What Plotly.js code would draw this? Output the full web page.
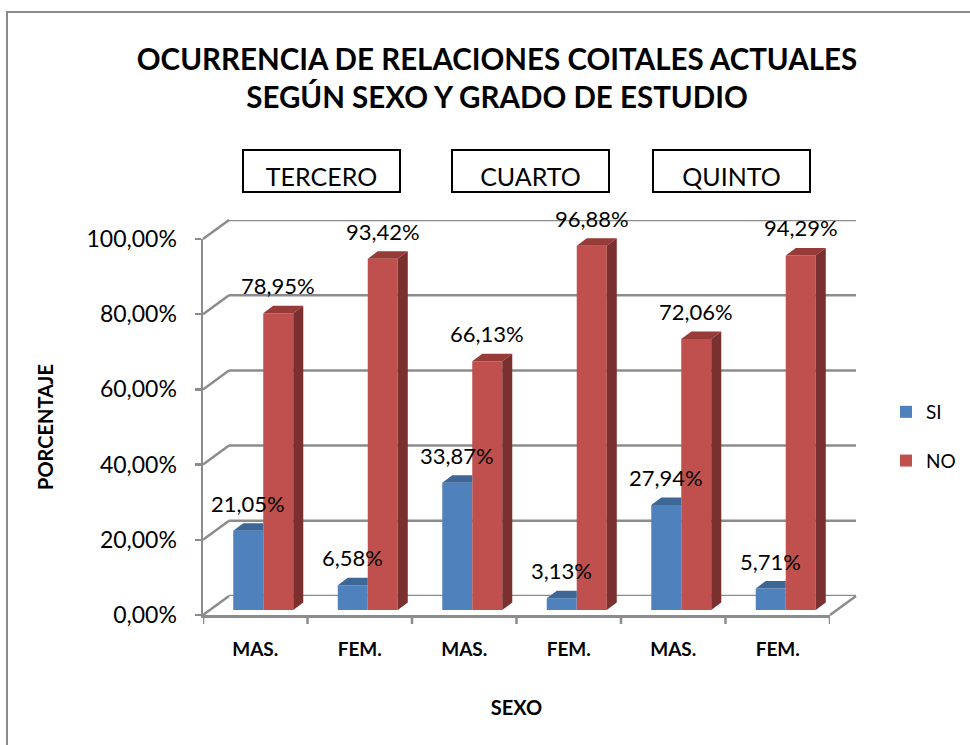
<!DOCTYPE html>
<html>
<head>
<meta charset="utf-8">
<script src="https://cdn.plot.ly/plotly-3.0.1.min.js"></script>
<style>html,body{margin:0;padding:0;background:#fff;}#chart{width:970px;height:745px;}</style>
</head>
<body>
<div id="chart"></div>
<script>
// ---------- DATA ----------
const categories = ['MAS.', 'FEM.', 'MAS.', 'FEM.', 'MAS.', 'FEM.'];
const grades = ['TERCERO', 'CUARTO', 'QUINTO'];
const seriesNames = ['SI', 'NO'];
const siValues = [21.05, 6.58, 33.87, 3.13, 27.94, 5.71];
const noValues = [78.95, 93.42, 66.13, 96.88, 72.06, 94.29];
const yTicks = [0, 20, 40, 60, 80, 100];
const yTickText = ['0,00%', '20,00%', '40,00%', '60,00%', '80,00%', '100,00%'];

// ---------- STYLE / GEOMETRY ----------
const W = 970, H = 745;
const FONT = 'Lato, "Open Sans", sans-serif';
const frontL = 203, frontR = 830, frontB = 615, frontT = 239;
const depthDX = 26, depthDY = -19;
const barShiftX = 8, barShiftY = -5;
const px = p => p / W;
const py = p => 1 - p / H;
const gridColor = '#8c8c8c';
const colorsFront = ['#4F81BD', '#C0504D'];
const colorsTop = ['#3D6796', '#973B39'];
const colorsSide = ['#365B87', '#7A302E'];
const barW = 0.287;            // in category units
const extX = 0.096;            // 3D extrusion (category units)
const extY = 2.0;              // 3D extrusion (value units)
const gradeShift = [6, 6, -2]; // pixel nudges of the grade boxes

const nCat = categories.length;
const xIdx = categories.map((c, i) => i);
const series = [siValues, noValues];
const offsets = [-barW, 0];
const fmt = v => v.toFixed(2).replace('.', ',') + '%';

const traces = [];
// dummy traces for back and front subplots
traces.push({x: [0], y: [0], xaxis: 'x', yaxis: 'y', mode: 'none', showlegend: false, hoverinfo: 'skip', type: 'scatter'});
traces.push({x: [0], y: [0], xaxis: 'x2', yaxis: 'y2', mode: 'none', showlegend: false, hoverinfo: 'skip', type: 'scatter'});

// front faces
series.forEach((vals, s) => {
  traces.push({
    type: 'bar', name: seriesNames[s], x: xIdx, y: vals,
    xaxis: 'x3', yaxis: 'y3', width: barW, offset: offsets[s],
    marker: {color: colorsFront[s], line: {width: 0}},
    legendgroup: seriesNames[s], hoverinfo: 'skip'
  });
});

// 3D top and side faces (computed from the values)
series.forEach((vals, s) => {
  const topX = [], topY = [], sideX = [], sideY = [];
  const isLast = s === series.length - 1;
  vals.forEach((v, i) => {
    const x0 = i + offsets[s], x1 = x0 + barW;
    if (isLast) {
      topX.push(x0, x1, x1 + extX, x0 + extX, x0, null);
      topY.push(v, v, v + extY, v + extY, v, null);
      sideX.push(x1, x1, x1 + extX, x1 + extX, x1, null);
      sideY.push(0, v, v + extY, extY, 0, null);
    } else {
      // clipped by the neighbouring (taller) bar in front
      topX.push(x0, x1, x1, x0 + extX, x0, null);
      topY.push(v, v, v + extY, v + extY, v, null);
    }
  });
  traces.push({type: 'scatter', x: topX, y: topY, xaxis: 'x3', yaxis: 'y3', mode: 'lines',
    line: {width: 0, color: colorsTop[s]}, fill: 'toself', fillcolor: colorsTop[s],
    showlegend: false, hoverinfo: 'skip'});
  if (sideX.length) {
    traces.push({type: 'scatter', x: sideX, y: sideY, xaxis: 'x3', yaxis: 'y3', mode: 'lines',
      line: {width: 0, color: colorsSide[s]}, fill: 'toself', fillcolor: colorsSide[s],
      showlegend: false, hoverinfo: 'skip'});
  }
});

// ---------- SHAPES (axes decoration) ----------
const shapes = [];
// chart border
shapes.push({type: 'rect', xref: 'paper', yref: 'paper', x0: px(7), x1: px(W + 10), y0: py(12), y1: py(H + 10),
  line: {color: '#8a8a8a', width: 2}, layer: 'below'});
const yFront = v => frontB - (frontB - frontT) * v / 100;
yTicks.forEach(v => {
  // back wall gridline
  shapes.push({type: 'line', xref: 'x domain', yref: 'y', x0: 0, x1: 1, y0: v, y1: v,
    line: {color: gridColor, width: 2.5}, layer: 'below'});
  // side-wall connector from front axis to back wall
  shapes.push({type: 'line', xref: 'paper', yref: 'paper',
    x0: px(frontL), y0: py(yFront(v)), x1: px(frontL + depthDX), y1: py(yFront(v) + depthDY),
    line: {color: gridColor, width: 2.5}, layer: 'below'});
});
// floor right edge
shapes.push({type: 'line', xref: 'paper', yref: 'paper',
  x0: px(frontR), y0: py(frontB), x1: px(frontR + depthDX), y1: py(frontB + depthDY),
  line: {color: gridColor, width: 2.5}, layer: 'below'});
// category boundary tick marks
for (let k = 0; k <= nCat; k++) {
  shapes.push({type: 'line', xref: 'x2', yref: 'paper', x0: k - 0.5, x1: k - 0.5,
    y0: py(frontB), y1: py(frontB + 9), line: {color: gridColor, width: 2.5}});
}

// ---------- ANNOTATIONS ----------
const annotations = [];
series.forEach((vals, s) => {
  vals.forEach((v, i) => {
    annotations.push({xref: 'x3', yref: 'y3', x: i + offsets[s] + barW / 2, y: v,
      text: fmt(v), showarrow: false, yanchor: 'bottom', yshift: 12,
      font: {family: FONT, size: 22, color: '#000'}});
  });
});
grades.forEach((g, k) => {
  annotations.push({xref: 'x3', yref: 'paper', x: 2 * k + 0.5, xshift: gradeShift[k], y: py(171), yanchor: 'middle',
    text: g, showarrow: false, font: {family: FONT, size: 25, color: '#000'},
    bordercolor: '#000', borderwidth: 2, borderpad: 0, width: 155, height: 40, valign: 'bottom',
    bgcolor: '#fff'});
});

const layout = {
  width: W, height: H,
  margin: {l: 0, r: 0, t: 0, b: 0, pad: 0},
  paper_bgcolor: '#fff', plot_bgcolor: 'rgba(0,0,0,0)',
  font: {family: FONT, color: '#000'},
  title: {text: 'OCURRENCIA DE RELACIONES COITALES ACTUALES<br>SEGÚN SEXO Y GRADO DE ESTUDIO',
    font: {family: FONT, size: 29.5, weight: 'bold', color: '#000'},
    x: px(497), xanchor: 'center', y: py(70), yanchor: 'middle', yref: 'container'},
  barmode: 'overlay',
  showlegend: true,
  legend: {x: px(886), y: py(393), xanchor: 'left', yanchor: 'top', traceorder: 'grouped',
    tracegroupgap: 21, font: {family: FONT, size: 19, color: '#000'}, bgcolor: 'rgba(0,0,0,0)'},
  // back wall
  xaxis: {domain: [px(frontL + depthDX), px(frontR + depthDX)], range: [-0.5, nCat - 0.5], visible: false, fixedrange: true},
  yaxis: {domain: [py(frontB + depthDY), py(frontT + depthDY)], range: [0, 100], visible: false, fixedrange: true},
  // front axes
  xaxis2: {domain: [px(frontL), px(frontR)], range: [-0.5, nCat - 0.5], anchor: 'y2',
    tickmode: 'array', tickvals: xIdx, ticktext: categories, ticks: '', showgrid: false, zeroline: false,
    showline: true, linecolor: gridColor, linewidth: 2.5, ticklabelstandoff: 16,
    tickfont: {family: FONT, size: 19, weight: 'bold', color: '#000'},
    title: {text: 'SEXO', font: {family: FONT, size: 20, weight: 'bold', color: '#000'}, standoff: 42}},
  yaxis2: {domain: [py(frontB), py(frontT)], range: [0, 100], anchor: 'x2',
    tickmode: 'array', tickvals: yTicks, ticktext: yTickText, ticks: 'outside', ticklen: 6,
    tickcolor: gridColor, tickwidth: 2.5, showgrid: false, zeroline: false,
    showline: true, linecolor: gridColor, linewidth: 2.5, ticklabelstandoff: 13,
    tickfont: {family: FONT, size: 23, color: '#000'},
    title: {text: 'PORCENTAJE', font: {family: FONT, size: 20, weight: 'bold', color: '#000'}, standoff: 28}},
  // bar plane
  xaxis3: {domain: [px(frontL + barShiftX), px(frontR + barShiftX)], range: [-0.5, nCat - 0.5], anchor: 'y3', visible: false, fixedrange: true},
  yaxis3: {domain: [py(frontB + barShiftY), py(frontT + barShiftY)], range: [0, 100], anchor: 'x3', visible: false, fixedrange: true},
  shapes: shapes,
  annotations: annotations
};

Plotly.newPlot('chart', traces, layout, {displayModeBar: false, staticPlot: true});
</script>
</body>
</html>
